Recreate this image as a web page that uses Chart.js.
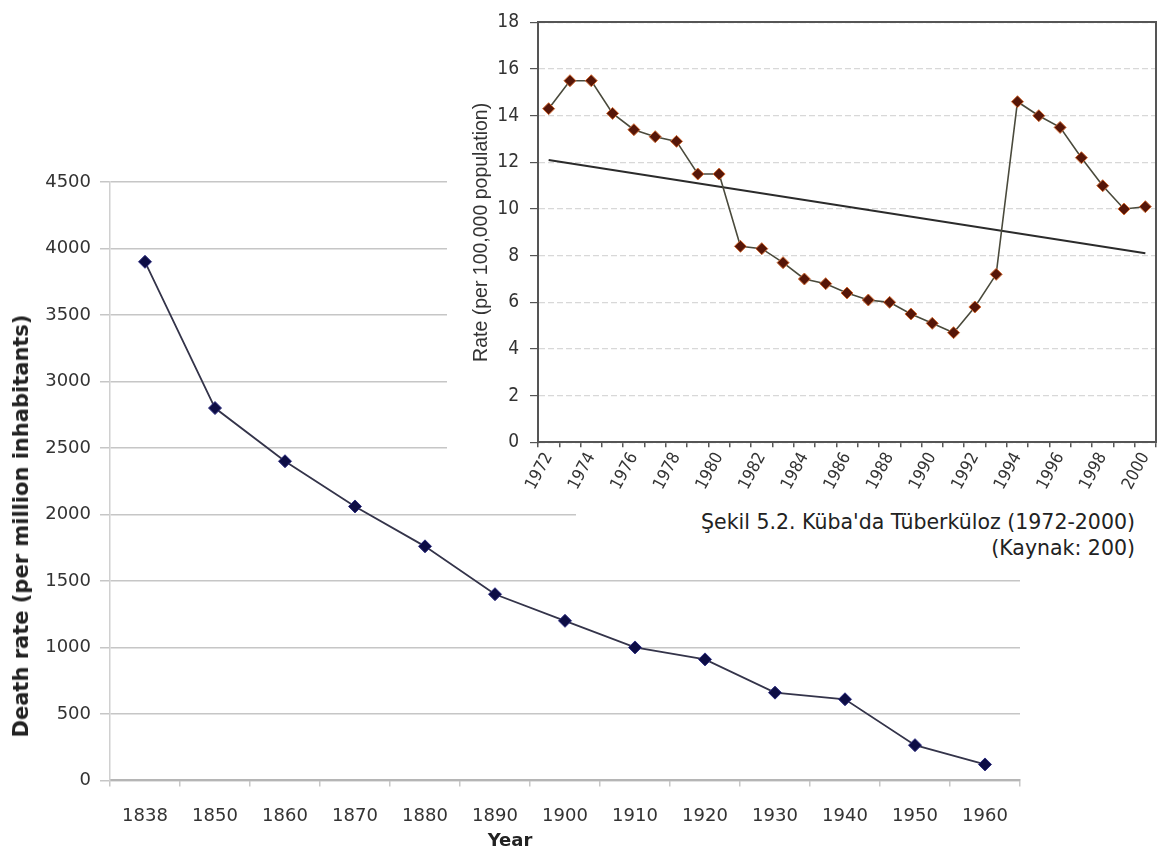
<!DOCTYPE html>
<html>
<head>
<meta charset="utf-8">
<script src="https://cdn.jsdelivr.net/npm/chart.js@4.4.1/dist/chart.umd.min.js"></script>
<style>
  html, body { margin: 0; padding: 0; background: #ffffff; }
  body { width: 1158px; height: 853px; position: relative; overflow: hidden; font-family: 'DejaVu Sans', sans-serif; }
  #main { position: absolute; left: 0; top: 0; }
  #inset { position: absolute; left: 447px; top: 0; background: #ffffff; }
  #ytitle { position: absolute; left: 21px; top: 526px; transform: translate(-50%, -50%) rotate(-90deg);
            white-space: nowrap; font-weight: bold; font-size: 21px; color: #222; }
  #caption { position: absolute; left: 576px; top: 500px; width: 582px; height: 66px; box-sizing: border-box;
             padding: 9px 23px 0 0; background: #ffffff; text-align: right; font-size: 20.5px;
             line-height: 26px; color: #222; }
</style>
</head>
<body>
<canvas id="main" width="1040" height="853"></canvas>
<canvas id="inset" width="716" height="500"></canvas>
<div id="ytitle">Death rate (per million inhabitants)</div>
<div id="caption">Şekil 5.2. Küba'da Tüberküloz (1972-2000)<br>(Kaynak: 200)</div>
<script>
// ---------- Main chart data ----------
const mainYears = ['1838', '1850', '1860', '1870', '1880', '1890', '1900', '1910', '1920', '1930', '1940', '1950', '1960'];
const deathRate = [3900, 2800, 2400, 2060, 1760, 1400, 1200, 1000, 910, 660, 610, 265, 120];
const mainYMin = 0;
const mainYMax = 4500;
const mainYStep = 500;
const mainXTitle = 'Year';

// ---------- Inset chart data ----------
const insetYears = ['1972', '1973', '1974', '1975', '1976', '1977', '1978', '1979', '1980', '1981',
                    '1982', '1983', '1984', '1985', '1986', '1987', '1988', '1989', '1990', '1991',
                    '1992', '1993', '1994', '1995', '1996', '1997', '1998', '1999', '2000'];
const tbRate = [14.3, 15.5, 15.5, 14.1, 13.4, 13.1, 12.9, 11.5, 11.5, 8.4,
                8.3, 7.7, 7.0, 6.8, 6.4, 6.1, 6.0, 5.5, 5.1, 4.7,
                5.8, 7.2, 14.6, 14.0, 13.5, 12.2, 11.0, 10.0, 10.1];
const tbTrend = [12.1, null, null, null, null, null, null, null, null, null,
                 null, null, null, null, null, null, null, null, null, null,
                 null, null, null, null, null, null, null, null, 8.1];
const insetYMin = 0;
const insetYMax = 18;
const insetYStep = 2;
const insetYTitle = 'Rate (per 100,000 population)';

Chart.defaults.font.family = "'DejaVu Sans', sans-serif";
Chart.defaults.color = '#333';

const narrow = "'Liberation Sans Narrow', 'DejaVu Sans Condensed', 'Liberation Sans', sans-serif";

// ---------- Main chart ----------
new Chart(document.getElementById('main'), {
  type: 'line',
  data: {
    labels: mainYears,
    datasets: [{
      data: deathRate,
      borderColor: '#34344a',
      borderWidth: 1.8,
      tension: 0,
      pointStyle: 'rectRot',
      pointRadius: 6.5,
      pointBackgroundColor: '#0d0d45',
      pointBorderColor: '#2e2e80',
      pointBorderWidth: 1
    }]
  },
  options: {
    responsive: false,
    animation: false,
    devicePixelRatio: 1,
    layout: { padding: { top: 182, right: 20, bottom: 0, left: 0 } },
    plugins: {
      legend: { display: false },
      tooltip: { enabled: false },
      title: {
        display: true,
        text: mainXTitle,
        position: 'bottom',
        color: '#222',
        font: { size: 18, weight: 'bold' },
        padding: { top: 2, bottom: 1 }
      }
    },
    scales: {
      x: {
        offset: true,
        grid: { display: true, drawOnChartArea: false, drawTicks: true, tickLength: 6, offset: true, color: '#c8c8c8', lineWidth: 1.5 },
        border: { display: true, color: '#b5b5b5', width: 2 },
        ticks: { font: { size: 18 }, color: '#333', padding: 19, maxRotation: 0, minRotation: 0, autoSkip: false },
        afterFit: (s) => { s.height = 48; }
      },
      y: {
        min: mainYMin,
        max: mainYMax,
        ticks: { stepSize: mainYStep, font: { size: 18 }, color: '#333', padding: 9, format: { useGrouping: false } },
        grid: { color: '#c6c6c6', lineWidth: 1.5, drawTicks: true, tickLength: 10 },
        border: { display: true, color: '#d0d0d0', width: 1.5 },
        afterFit: (s) => { s.width = 110; }
      }
    }
  }
});

// ---------- Inset chart ----------
new Chart(document.getElementById('inset'), {
  type: 'line',
  data: {
    labels: insetYears,
    datasets: [{
      data: tbRate,
      borderColor: '#4a4a3c',
      borderWidth: 1.6,
      tension: 0,
      pointStyle: 'rectRot',
      pointRadius: 6,
      pointBackgroundColor: '#561608',
      pointBorderColor: '#d06a34',
      pointBorderWidth: 1
    }, {
      data: tbTrend,
      spanGaps: true,
      borderColor: '#2b2b2b',
      borderWidth: 2,
      pointRadius: 0,
      tension: 0
    }]
  },
  options: {
    responsive: false,
    animation: false,
    devicePixelRatio: 1,
    layout: { padding: { top: 14, right: 0, bottom: 0, left: 0 } },
    plugins: { legend: { display: false }, tooltip: { enabled: false } },
    scales: {
      x: {
        offset: true,
        grid: { display: true, drawOnChartArea: false, drawTicks: true, tickLength: 5, offset: true, color: '#555', tickColor: '#555', lineWidth: 1.5 },
        border: { display: true, color: '#555', width: 2 },
        ticks: {
          autoSkip: false, maxRotation: 62, minRotation: 62, padding: 2,
          font: { size: 17, family: narrow }, color: '#333',
          callback: (v, i) => (i % 2 === 0 ? insetYears[i] : '')
        },
        afterFit: (s) => { s.height = 57.7; s.paddingLeft = 0; s.paddingRight = 0; }
      },
      x2: {
        type: 'category',
        position: 'top',
        ticks: { display: false },
        grid: { drawOnChartArea: false, drawTicks: false },
        border: { display: true, color: '#555', width: 2 },
        afterFit: (s) => { s.height = 0; s.paddingLeft = 0; s.paddingRight = 0; }
      },
      y: {
        min: insetYMin,
        max: insetYMax,
        ticks: { stepSize: insetYStep, font: { size: 19, family: narrow }, color: '#333', padding: 11 },
        grid: { color: '#d8d8d8', lineWidth: 1.2, drawTicks: true, tickLength: 8, tickColor: '#555', tickBorderDash: [] },
        border: { display: true, color: '#555', width: 2, dash: [6, 3] },
        title: {
          display: true, text: insetYTitle, color: '#333',
          font: { size: 19.5, family: "'Liberation Sans', sans-serif" },
          padding: { top: 23, bottom: 0 }
        },
        afterFit: (s) => { s.width = 91; }
      },
      y2: {
        position: 'right',
        min: insetYMin,
        max: insetYMax,
        ticks: { display: false },
        grid: { drawOnChartArea: false, drawTicks: false },
        border: { display: true, color: '#555', width: 2 },
        afterFit: (s) => { s.width = 0; }
      }
    }
  }
});
</script>
</body>
</html>
